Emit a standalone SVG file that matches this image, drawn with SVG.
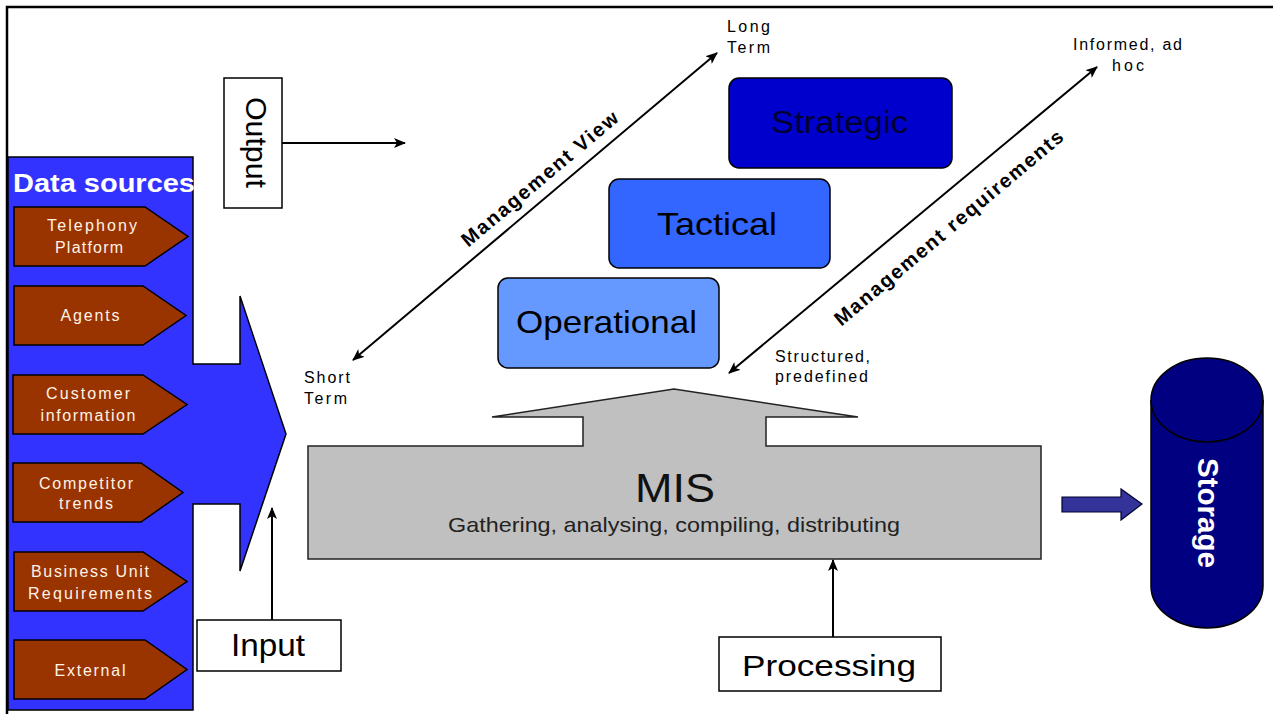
<svg xmlns="http://www.w3.org/2000/svg" width="1273" height="714" viewBox="0 0 1273 714">
<style>
text{font-family:"Liberation Sans",Arial,sans-serif;}
.src{fill:#993300;stroke:#000;stroke-width:1.5;}
.srct{fill:#fff3e6;font-size:16px;text-anchor:middle;}
.box{fill:#fff;stroke:#000;stroke-width:1.5;}
.lvl{stroke:#000;stroke-width:1.5;}
.lbl{font-size:16px;fill:#000;}
.conn{stroke:#000;stroke-width:2;fill:none;}
.diag{font-size:20px;font-weight:bold;fill:#000;text-anchor:middle;}
</style>
<defs>
<marker id="ah" viewBox="0 0 12 10" refX="11" refY="5" markerWidth="12" markerHeight="10" markerUnits="userSpaceOnUse" orient="auto-start-reverse">
<path d="M0,0 L12,5 L0,10 L3,5 z" fill="#000"/>
</marker>
</defs>
<rect width="1273" height="714" fill="#fff"/>
<path d="M7,714 V7 H1273" fill="none" stroke="#000" stroke-width="2.5"/>

<g id="data-sources">
<path d="M8,157 H193 V364 H240 V296 L286,434 L240,571 V504 H193 V710 H8 Z" fill="#3333ff" stroke="#000" stroke-width="1.5"/>
<text x="13" y="192" font-size="26" font-weight="bold" fill="#fff" textLength="182" lengthAdjust="spacingAndGlyphs">Data sources</text>
</g>
<g id="src-telephony">
<path class="src" d="M14,207 H145 L188,236.5 L145,266 H14 Z"/>
<text class="srct" x="92" y="231" textLength="90">Telephony</text>
<text class="srct" x="89" y="253" textLength="68">Platform</text>
</g>
<g id="src-agents">
<path class="src" d="M14,286 H143 L186,315.5 L143,345 H14 Z"/>
<text class="srct" x="90" y="321" textLength="59">Agents</text>
</g>
<g id="src-customer">
<path class="src" d="M13,375 H143 L187,404.5 L143,434 H13 Z"/>
<text class="srct" x="88" y="399" textLength="84">Customer</text>
<text class="srct" x="88" y="421" textLength="95">information</text>
</g>
<g id="src-competitor">
<path class="src" d="M13,463 H141 L183,492.5 L141,522 H13 Z"/>
<text class="srct" x="86" y="489" textLength="94">Competitor</text>
<text class="srct" x="86" y="509" textLength="54">trends</text>
</g>
<g id="src-business">
<path class="src" d="M14,552 H143 L187,581.5 L143,611 H14 Z"/>
<text class="srct" x="90" y="577" textLength="118">Business Unit</text>
<text class="srct" x="90" y="599" textLength="124">Requirements</text>
</g>
<g id="src-external">
<path class="src" d="M14,640 H145 L187,669.5 L145,699 H14 Z"/>
<text class="srct" x="90" y="676" textLength="71">External</text>
</g>

<g id="output">
<rect class="box" x="224" y="78" width="58" height="130"/>
<text transform="translate(246,97) rotate(90)" font-size="30" textLength="91" lengthAdjust="spacingAndGlyphs">Output</text>
</g>

<g id="strategic">
<rect class="lvl" x="729" y="78" width="223" height="90" rx="10" fill="#0000cc"/>
<text x="771" y="133" font-size="31" fill="#000033" textLength="137" lengthAdjust="spacingAndGlyphs">Strategic</text>
</g>
<g id="tactical">
<rect class="lvl" x="609" y="179" width="221" height="89" rx="10" fill="#3366ff"/>
<text x="657" y="235" font-size="32" fill="#000" textLength="120" lengthAdjust="spacingAndGlyphs">Tactical</text>
</g>
<g id="operational">
<rect class="lvl" x="498" y="278" width="221" height="90" rx="10" fill="#6699ff"/>
<text x="516" y="333" font-size="32" fill="#000" textLength="181" lengthAdjust="spacingAndGlyphs">Operational</text>
</g>

<g id="mis">
<path d="M308,446 H583 V417 H492 L674,389 L858,417 H766 V446 H1041 V559 H308 Z" fill="#c0c0c0" stroke="#222" stroke-width="1.5"/>
<text x="635" y="502" font-size="41" fill="#111" textLength="80" lengthAdjust="spacingAndGlyphs">MIS</text>
<text x="448" y="532" font-size="21" fill="#222" textLength="452" lengthAdjust="spacingAndGlyphs">Gathering, analysing, compiling, distributing</text>
</g>

<g id="input">
<rect class="box" x="197" y="620" width="144" height="51"/>
<text x="231" y="656" font-size="31" textLength="74" lengthAdjust="spacingAndGlyphs">Input</text>
</g>
<g id="processing">
<rect class="box" x="719" y="637" width="222" height="54"/>
<text x="742" y="676" font-size="30" textLength="174" lengthAdjust="spacingAndGlyphs">Processing</text>
</g>

<g id="storage">
<path d="M1151,400 A56,42 0 0 1 1263,400 V586 A56,42 0 0 1 1151,586 Z" fill="#000080" stroke="#000" stroke-width="1.5"/>
<path d="M1151,400 A56,42 0 0 0 1263,400" fill="none" stroke="#000" stroke-width="1.5"/>
<text transform="translate(1198,458) rotate(90)" font-size="30" font-weight="bold" fill="#fff" textLength="110" lengthAdjust="spacingAndGlyphs">Storage</text>
</g>

<g id="labels">
<text class="lbl" x="727" y="32" textLength="43">Long</text>
<text class="lbl" x="727" y="53" textLength="43">Term</text>
<text class="lbl" x="304" y="383" textLength="46">Short</text>
<text class="lbl" x="304" y="404" textLength="43">Term</text>
<text class="lbl" x="1073" y="50" textLength="109">Informed, ad</text>
<text class="lbl" x="1112" y="71" textLength="32">hoc</text>
<text class="lbl" x="775" y="362" textLength="95">Structured,</text>
<text class="lbl" x="775" y="382" textLength="93">predefined</text>
</g>

<g id="connectors">
<line class="conn" x1="282" y1="143" x2="405" y2="143" marker-end="url(#ah)"/>
<line class="conn" x1="272" y1="620" x2="272" y2="508" marker-end="url(#ah)"/>
<line class="conn" x1="833" y1="637" x2="833" y2="560" marker-end="url(#ah)"/>
<line class="conn" x1="353" y1="360" x2="717" y2="53" marker-start="url(#ah)" marker-end="url(#ah)"/>
<line class="conn" x1="729" y1="373" x2="1097" y2="67" marker-start="url(#ah)" marker-end="url(#ah)"/>
<path d="M1062,497 H1121 V489 L1142,504 L1121,520 V512 H1062 Z" fill="#333399" stroke="#000033" stroke-width="1.2"/>
<text class="diag" transform="translate(544,184) rotate(-40)" textLength="198">Management View</text>
<text class="diag" transform="translate(953,233) rotate(-40)" textLength="292">Management requirements</text>
</g>
</svg>
